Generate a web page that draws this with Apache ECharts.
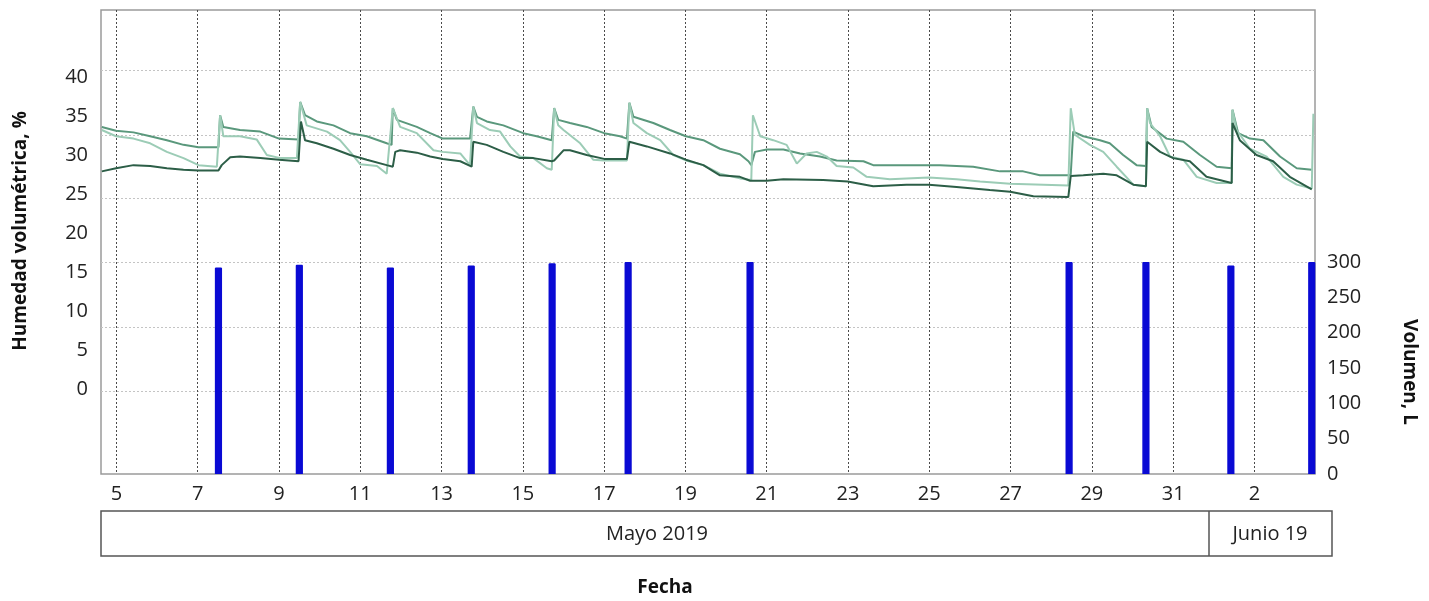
<!DOCTYPE html>
<html>
<head>
<meta charset="utf-8">
<script src="https://cdn.jsdelivr.net/npm/echarts@6/dist/echarts.min.js"></script>
<style>
html,body{margin:0;padding:0;background:#fff;}
#chart{width:1429px;height:601px;}
</style>
</head>
<body>
<div id="chart"></div>
<script>
// ---- Data (day of May; 32 = 1 June, 33 = 2 June) ----
const dayA = [4.64,4.99,5.42,5.83,6.24,6.65,7.02,7.51,7.55,7.63,8.04,8.54,9.00,9.48,9.52,9.64,9.93,10.34,10.75,11.16,11.65,11.77,11.80,11.90,12.39,12.72,13.03,13.70,13.78,13.87,14.11,14.52,15.01,15.34,15.71,15.77,15.87,16.16,16.57,17.00,17.39,17.56,17.62,17.72,18.21,18.62,19.01,19.44,19.85,20.34,20.55,20.62,20.71,21.00,21.41,21.82,22.31,22.72,23.38,23.62,24.44,25.26,26.08,26.74,27.31,27.72,28.42,28.48,28.54,28.79,29.20,29.44,29.77,30.10,30.33,30.36,30.47,30.84,31.25,31.66,32.07,32.44,32.46,32.60,32.89,33.22,33.63,34.04,34.41];
const humA = [33.6,33.1,32.9,32.4,31.9,31.3,31.0,31.0,35.1,33.6,33.2,33.0,32.1,32.0,36.8,35.1,34.3,33.8,32.8,32.4,31.5,31.3,36.0,34.5,33.6,32.8,32.1,32.1,36.2,34.9,34.3,33.8,32.8,32.4,31.9,36.0,34.5,34.1,33.6,32.8,32.4,32.1,36.7,34.9,34.1,33.2,32.4,31.9,30.8,30.1,29.2,28.7,30.4,30.7,30.7,30.2,29.8,29.3,29.2,28.7,28.7,28.7,28.5,27.9,27.9,27.4,27.4,27.5,33.0,32.4,31.9,31.5,30.0,28.7,28.6,36.0,33.6,32.1,31.7,30.0,28.5,28.3,35.8,32.8,32.1,31.9,29.8,28.3,28.1];

const dayB = [4.64,4.99,5.42,5.83,6.24,6.65,7.02,7.47,7.55,7.63,8.04,8.45,8.70,9.03,9.44,9.52,9.68,10.18,10.50,10.75,11.00,11.41,11.65,11.80,11.98,12.39,12.80,13.03,13.46,13.70,13.78,13.87,14.19,14.44,14.69,14.93,15.26,15.59,15.71,15.77,15.87,16.00,16.41,16.73,17.00,17.56,17.62,17.72,18.05,18.38,18.70,19.01,19.44,19.85,20.34,20.62,20.66,20.84,21.16,21.49,21.74,21.98,22.23,22.48,22.72,23.13,23.46,24.03,24.99,25.67,26.25,26.99,28.42,28.48,28.58,28.95,29.28,29.61,30.02,30.33,30.36,30.43,30.68,30.92,31.25,31.58,32.07,32.44,32.46,32.56,32.89,33.30,33.71,34.04,34.41,34.45];
const humB = [33.2,32.4,32.1,31.5,30.4,29.6,28.7,28.5,35.1,32.4,32.4,32.0,30.0,29.6,29.6,36.8,33.8,33.0,31.9,30.4,28.8,28.6,27.6,36.0,33.6,32.8,30.6,30.4,30.2,28.7,36.2,34.1,33.2,33.0,31.1,29.8,29.6,28.3,28.1,36.0,33.8,33.2,31.5,29.4,29.3,29.3,36.7,34.1,32.8,31.9,30.0,29.3,28.7,27.6,27.0,26.8,35.1,32.4,31.9,31.3,28.9,30.2,30.4,29.8,28.6,28.4,27.2,26.9,27.1,26.9,26.6,26.3,26.1,36.0,32.6,31.3,30.4,28.5,26.2,26.0,36.0,34.1,32.4,29.8,29.4,27.2,26.4,26.4,35.8,33.2,30.8,29.8,27.2,26.2,25.7,35.3];

const dayC = [4.64,4.99,5.42,5.83,6.24,6.65,7.02,7.51,7.59,7.80,8.04,8.54,9.00,9.48,9.54,9.64,9.93,10.34,10.75,11.16,11.65,11.80,11.86,11.98,12.39,12.72,13.03,13.46,13.74,13.78,14.11,14.52,14.93,15.26,15.71,15.77,16.00,16.16,16.57,17.00,17.56,17.62,18.05,18.62,19.01,19.44,19.85,20.34,20.59,21.00,21.41,22.39,22.99,23.62,24.44,24.99,25.67,26.49,26.99,27.56,28.42,28.48,28.79,29.28,29.61,30.02,30.33,30.36,30.68,31.00,31.41,31.82,32.44,32.46,32.64,33.05,33.46,33.87,34.41];
const humC = [27.9,28.3,28.7,28.6,28.3,28.1,28.0,28.0,28.7,29.7,29.8,29.6,29.4,29.2,34.3,31.9,31.5,30.8,30.0,29.4,28.7,28.5,30.4,30.6,30.3,29.8,29.5,29.2,28.5,31.7,31.3,30.4,29.6,29.6,29.2,29.3,30.6,30.6,30.0,29.5,29.5,31.7,31.1,30.2,29.4,28.7,27.4,27.2,26.7,26.7,26.9,26.8,26.6,26.0,26.2,26.2,25.9,25.5,25.3,24.7,24.6,27.3,27.4,27.6,27.4,26.2,26.0,31.7,30.4,29.6,29.2,27.2,26.4,34.1,31.9,30.0,29.2,27.2,25.6];

const irrigStart  = [7.44,9.43,11.67,13.66,15.65,17.52,20.52,28.37,30.26,32.35,34.34];
const irrigEnd    = [7.58,9.57,11.81,13.80,15.79,17.66,20.66,28.51,30.40,32.49,34.48];
const irrigVolume = [291,295,291,294,297,299,299,299,299,294,299];

const xTickDays   = [5,7,9,11,13,15,17,19,21,23,25,27,29,31,33];
const xTickLabels = ['5','7','9','11','13','15','17','19','21','23','25','27','29','31','2'];
const humTicks    = [0,5,10,15,20,25,30,35,40];
const humGridLines = [-0.35,7.95,16.28,24.45,32.56,40.81];
const volTicks    = [0,50,100,150,200,250,300];
const monthLabels = ['Mayo 2019','Junio 19'];

// ---- Build series data ----
function pairs(d, v){ return d.map((x,i)=>[x, v[i]]); }
const volData = [];
irrigStart.forEach((s,i)=>{
  if (i > 0) volData.push('-');
  volData.push([s,0],[s,irrigVolume[i]],[irrigEnd[i],irrigVolume[i]],[irrigEnd[i],0]);
});

const FONT = '"Open Sans", "DejaVu Sans", sans-serif';
const chart = echarts.init(document.getElementById('chart'), null, {renderer:'canvas'});

const option = {
  animation: false,
  backgroundColor: '#ffffff',
  grid: { left: 101, top: 10, right: 114, bottom: 127, show: true, borderColor: '#9a9a9a', borderWidth: 1.5, backgroundColor: 'transparent' },
  xAxis: {
    type: 'value', min: 4.62, max: 34.49,
    axisLine: { show: false },
    axisTick: { show: false, customValues: xTickDays },
    axisLabel: {
      customValues: xTickDays, margin: 10,
      fontFamily: FONT, fontSize: 20, color: '#222',
      formatter: v => xTickLabels[xTickDays.indexOf(Math.round(v))] || ''
    },
    splitLine: { show: true, lineStyle: { color: '#4a4a4a', type: [2,2], width: 1 } }
  },
  yAxis: [
    {
      type: 'value', min: -10.9, max: 48.59, position: 'left',
      axisLine: { show: false },
      axisTick: { show: false, customValues: humGridLines },
      axisLabel: { customValues: humTicks, margin: 13, fontFamily: FONT, fontSize: 20, color: '#222' },
      splitLine: { show: true, lineStyle: { color: '#c4c4c4', type: [2,2], width: 1 } }
    },
    {
      type: 'value', min: 0, max: 656.6, position: 'right',
      axisLine: { show: false },
      axisTick: { show: false, customValues: volTicks },
      axisLabel: { customValues: volTicks, margin: 12, fontFamily: FONT, fontSize: 20, color: '#222' },
      splitLine: { show: false }
    }
  ],
  series: [
    {
      name: 'Volumen', type: 'line', yAxisIndex: 1, data: volData,
      showSymbol: false, symbol: 'none', connectNulls: false,
      lineStyle: { color: '#0a0ad4', width: 1.5 },
      areaStyle: { color: '#0a0ad4', opacity: 1 },
      z: 3
    },
    {
      name: 'Sensor 1', type: 'line', yAxisIndex: 0, data: pairs(dayA, humA),
      showSymbol: false, symbol: 'none',
      lineStyle: { color: '#5a987c', width: 2 }, z: 4
    },
    {
      name: 'Sensor 2', type: 'line', yAxisIndex: 0, data: pairs(dayB, humB),
      showSymbol: false, symbol: 'none',
      lineStyle: { color: '#9cccb6', width: 2 }, z: 4
    },
    {
      name: 'Sensor 3', type: 'line', yAxisIndex: 0, data: pairs(dayC, humC),
      showSymbol: false, symbol: 'none',
      lineStyle: { color: '#2c5e47', width: 2 }, z: 5
    }
  ],
  graphic: [
    { type: 'rect', shape: { x: 101, y: 511, width: 1231, height: 45 }, style: { fill: 'none', stroke: '#555', lineWidth: 1.5 } },
    { type: 'line', shape: { x1: 1209, y1: 511, x2: 1209, y2: 556 }, style: { stroke: '#555', lineWidth: 1.5 } },
    { type: 'text', x: 657, y: 534, style: { text: monthLabels[0], font: '20px ' + FONT, fill: '#222', textAlign: 'center', textVerticalAlign: 'middle' } },
    { type: 'text', x: 1270, y: 534, style: { text: monthLabels[1], font: '20px ' + FONT, fill: '#222', textAlign: 'center', textVerticalAlign: 'middle' } },
    { type: 'text', x: 665, y: 588, style: { text: 'Fecha', font: 'bold 19px ' + FONT, fill: '#111', textAlign: 'center', textVerticalAlign: 'middle' } },
    { type: 'text', x: 21, y: 231, rotation: Math.PI/2, style: { text: 'Humedad volumétrica, %', font: 'bold 19px ' + FONT, fill: '#111', textAlign: 'center', textVerticalAlign: 'middle' } },
    { type: 'text', x: 1409, y: 372, rotation: -Math.PI/2, style: { text: 'Volumen, L', font: 'bold 19px ' + FONT, fill: '#111', textAlign: 'center', textVerticalAlign: 'middle' } }
  ]
};
chart.setOption(option);
</script>
</body>
</html>
